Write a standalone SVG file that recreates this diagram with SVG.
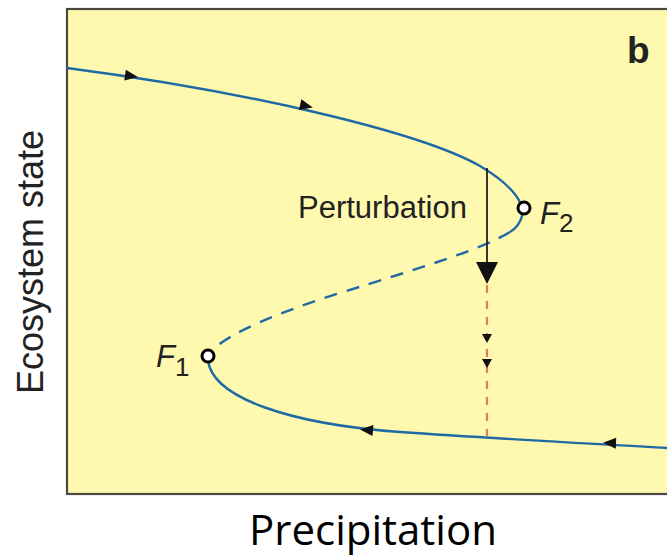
<svg xmlns="http://www.w3.org/2000/svg" width="667" height="558" viewBox="0 0 667 558">
<defs>
<style>
.curve{fill:none;stroke:#1f6aa5;stroke-width:2.4}
.dash{stroke-dasharray:13,10}
.ah{fill:#111}
.lbl{font-family:"Liberation Sans",Arial,sans-serif;fill:#222}
.fp{fill:#fff;stroke:#000;stroke-width:3}
</style>
<path id="ah" d="M7,0 L-6,-5.5 L-6,5.5 Z"/>
</defs>
<rect x="0" y="0" width="667" height="558" fill="#fff"/>
<g id="frame">
<rect x="67" y="9" width="612" height="485" fill="#fef9ae" stroke="#4a4a40" stroke-width="2.2"/>
</g>
<g id="connectors">
<path class="curve" d="M67,68 C250,92 420,132 480,166 C512,185 525,203 522,216 C520,224 515,229 510,232"/>
<path class="curve dash" d="M510,232 C480,250 420,268 340,293 C280,312 230,332 210,352"/>
<path class="curve" d="M208,360 C212,398 290,424 400,432 C500,439 600,444 667,448"/>
<use href="#ah" class="ah" transform="translate(131,76) rotate(8)"/>
<use href="#ah" class="ah" transform="translate(306,106) rotate(13)"/>
<use href="#ah" class="ah" transform="translate(367,430) rotate(185)"/>
<use href="#ah" class="ah" transform="translate(610,443) rotate(182)"/>
<line x1="487" y1="285" x2="487" y2="436" stroke="#e8785a" stroke-width="2.2" stroke-dasharray="8,8"/>
<line x1="487" y1="168" x2="487" y2="264" stroke="#222" stroke-width="1.8"/>
<path d="M476,262 L498,262 L487,284 Z" fill="#111"/>
<path d="M482,334 L492,334 L487,343 Z" fill="#111"/>
<path d="M482,359 L492,359 L487,368 Z" fill="#111"/>
</g>
<g id="F2">
<circle class="fp" cx="524" cy="208" r="6"/>
<text class="lbl" x="540" y="224" font-size="31" font-style="italic">F<tspan font-size="26" dy="8" font-style="normal">2</tspan></text>
</g>
<g id="F1">
<circle class="fp" cx="208" cy="356" r="6"/>
<text class="lbl" x="156" y="367" font-size="31" font-style="italic">F<tspan font-size="26" dy="9" font-style="normal">1</tspan></text>
</g>
<g id="perturbation">
<text class="lbl" x="298" y="218" font-size="31">Perturbation</text>
</g>
<g id="panel">
<text class="lbl" x="627" y="63" font-size="37" font-weight="bold" fill="#111">b</text>
</g>
<g id="yaxis">
<text class="lbl" transform="translate(43,262) rotate(-90)" text-anchor="middle" font-size="36">Ecosystem state</text>
</g>
<g id="xaxis">
<text x="373" y="545" text-anchor="middle" font-size="42" font-family="'Open Sans','Liberation Sans',sans-serif" fill="#000">Precipitation</text>
</g>
</svg>
